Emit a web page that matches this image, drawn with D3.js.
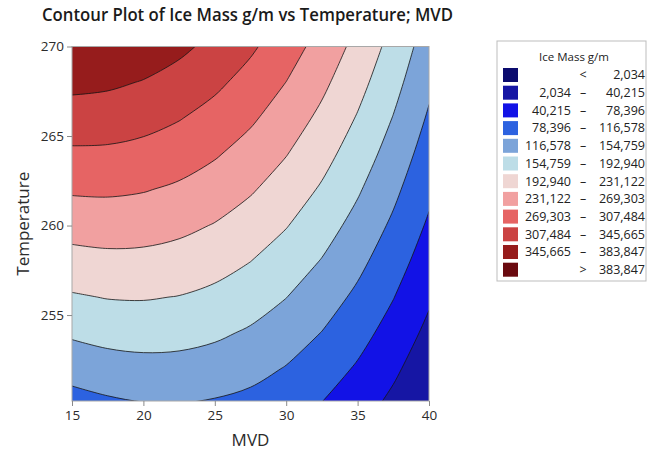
<!DOCTYPE html>
<html>
<head>
<meta charset="utf-8">
<script src="https://cdn.jsdelivr.net/npm/d3@7"></script>
<style>
  body { margin: 0; background: #fff; }
  svg { font-family: "Open Sans", sans-serif; }
</style>
</head>
<body>
<div id="chart"></div>
<script>
// grid nodes
var mvd = [15, 17.5, 20, 22.5, 25, 27.5, 30, 32.5, 35, 37.5, 40];
var temperature = [250, 252, 254, 256, 258, 260, 262, 264, 266, 268, 270];

// ice mass (g/m), one row per temperature (low -> high), one column per MVD
var iceMass = [
  [101.16, 109.29, 114.57, 115.47, 112.02, 105.70,  93.53,  76.98,  56.08,  30.81,   1.19],
  [130.86, 139.04, 142.85, 142.31, 137.40, 128.13, 114.49,  96.50,  74.14,  47.42,  16.33],
  [160.18, 166.91, 169.27, 167.27, 160.90, 150.18, 135.09, 115.64,  91.82,  63.65,  31.11],
  [189.14, 194.41, 195.32, 191.86, 184.04, 171.86, 155.32, 134.41, 109.14,  79.51,  45.52],
  [217.74, 221.55, 221.00, 216.09, 206.82, 193.18, 175.18, 152.82, 126.10,  95.01,  59.56],
  [245.96, 248.32, 246.32, 239.95, 229.22, 214.13, 194.68, 170.86, 142.68, 110.14,  73.24],
  [273.82, 274.72, 271.26, 263.44, 251.26, 234.71, 213.80, 188.53, 158.90, 124.90,  86.54],
  [301.30, 300.75, 295.84, 286.56, 272.92, 254.92, 232.56, 205.83, 174.74, 139.29,  99.48],
  [328.42, 326.42, 320.05, 309.32, 294.22, 274.77, 250.95, 222.77, 190.22, 153.32, 112.05],
  [355.18, 351.72, 343.89, 331.71, 315.16, 294.25, 268.97, 239.34, 205.34, 166.98, 124.25],
  [381.56, 376.64, 367.37, 353.72, 335.72, 313.35, 286.63, 255.53, 220.08, 180.26, 136.09]
];

var levels = [2.034, 40.215, 78.396, 116.578, 154.759, 192.940, 231.122, 269.303, 307.484, 345.665, 383.847];
var levelLabels = ["2,034", "40,215", "78,396", "116,578", "154,759", "192,940",
                   "231,122", "269,303", "307,484", "345,665", "383,847"];
var bandColors = ["#0b0b6e", "#1616a4", "#1212e6", "#2c62e0", "#7ca4d9", "#bddde7",
                  "#efd6d3", "#f1a0a0", "#e66464", "#cb4343", "#961c1c", "#6a0a0f"];

var xTicks = [15, 20, 25, 30, 35, 40];
var yTicks = [255, 260, 265, 270];

var svgWidth = 649;
var svgHeight = 454;
var plot = {left: 72, right: 429, top: 46.5, bottom: 401};

var svg = d3.select("#chart").append("svg")
    .attr("width", svgWidth)
    .attr("height", svgHeight);

var xScale = d3.scaleLinear().domain([15, 40]).range([plot.left, plot.right]);
var yScale = d3.scaleLinear().domain([250.2, 270]).range([plot.bottom, plot.top]);

var nCols = mvd.length, nRows = temperature.length;

// grid index space -> data space (d3.contours puts node k at k + 0.5)
var colToMvd = d3.scaleLinear().domain([0.5, nCols - 0.5]).range([mvd[0], mvd[nCols - 1]]);
var rowToTemp = d3.scaleLinear().domain([0.5, nRows - 0.5]).range([temperature[0], temperature[nRows - 1]]);

var flat = [];
iceMass.forEach(function(row) { row.forEach(function(v) { flat.push(v); }); });

var contours = d3.contours()
    .size([nCols, nRows])
    .thresholds(levels)(flat);

// smooth the part of each ring that lies inside the grid, keep the frame part straight
var smoothLine = d3.line().curve(d3.curveCatmullRom.alpha(0.5));
var smoothClosed = d3.line().curve(d3.curveCatmullRomClosed.alpha(0.5));
var eps = 1e-9;

function isInside(p) {
  return p[0] >= 0.5 - eps && p[0] <= nCols - 0.5 + eps &&
         p[1] >= 0.5 - eps && p[1] <= nRows - 0.5 + eps;
}

function ringPath(ring) {
  var raw = ring.slice();
  var last = raw[raw.length - 1];
  if (last[0] === raw[0][0] && last[1] === raw[0][1]) raw.pop();
  var pts = raw.map(function(p) { return [xScale(colToMvd(p[0])), yScale(rowToTemp(p[1]))]; });
  var inside = raw.map(isInside);
  var start = inside.indexOf(false);
  if (start < 0) return smoothClosed(pts);
  var n = pts.length;
  var d = "M" + pts[start];
  var run = [];
  for (var k = 1; k <= n; k++) {
    var idx = (start + k) % n;
    if (inside[idx]) {
      run.push(pts[idx]);
    } else {
      if (run.length === 1) d += "L" + run[0];
      else if (run.length > 1) d += smoothLine(run).replace(/^M/, "L");
      run = [];
      d += "L" + pts[idx];
    }
  }
  return d + "Z";
}

function contourPath(c) {
  return c.coordinates.map(function(poly) {
    return poly.map(ringPath).join("");
  }).join("");
}

svg.append("clipPath").attr("id", "plotClip")
  .append("rect")
    .attr("x", plot.left).attr("y", plot.top)
    .attr("width", plot.right - plot.left)
    .attr("height", plot.bottom - plot.top);

var chartGroup = svg.append("g").attr("clip-path", "url(#plotClip)");

chartGroup.append("rect")
    .attr("x", plot.left).attr("y", plot.top)
    .attr("width", plot.right - plot.left)
    .attr("height", plot.bottom - plot.top)
    .attr("fill", bandColors[0]);

chartGroup.selectAll("path.band")
    .data(contours)
    .enter()
    .append("path")
    .attr("class", "band")
    .attr("d", contourPath)
    .attr("fill-rule", "evenodd")
    .attr("fill", function(d, i) { return bandColors[i + 1]; })
    .attr("stroke", "#151515")
    .attr("stroke-width", 0.8);

// frame
svg.append("rect")
    .attr("x", plot.left).attr("y", plot.top)
    .attr("width", plot.right - plot.left)
    .attr("height", plot.bottom - plot.top)
    .attr("fill", "none")
    .attr("stroke", "#a8a8a8")
    .attr("stroke-width", 1);

// axes
var bottomAxis = d3.axisBottom(xScale).tickValues(xTicks).tickSize(5).tickPadding(4);
var leftAxis = d3.axisLeft(yScale).tickValues(yTicks).tickSize(5).tickPadding(3);

var xAxis = svg.append("g")
    .attr("transform", `translate(0,${plot.bottom})`)
    .call(bottomAxis);
var yAxis = svg.append("g")
    .attr("transform", `translate(${plot.left},0)`)
    .call(leftAxis);

[xAxis, yAxis].forEach(function(ax) {
  ax.select(".domain").remove();
  ax.selectAll(".tick line").attr("stroke", "#8a8a8a");
  ax.selectAll(".tick text")
    .attr("fill", "#2b2b2b")
    .style("font-size", "13.5px")
    .style("font-family", "'Open Sans', sans-serif");
});

// titles
svg.append("text")
    .attr("x", 42)
    .attr("y", 21)
    .attr("textLength", 411)
    .attr("lengthAdjust", "spacingAndGlyphs")
    .style("font-size", "18.5px")
    .style("font-weight", 600)
    .attr("fill", "#1a1a1a")
    .text("Contour Plot of Ice Mass g/m vs Temperature; MVD");

svg.append("text")
    .attr("x", (plot.left + plot.right) / 2)
    .attr("y", 446)
    .attr("text-anchor", "middle")
    .style("font-size", "17px")
    .attr("fill", "#2b2b2b")
    .text("MVD");

svg.append("text")
    .attr("transform", `translate(29,${(plot.top + plot.bottom) / 2}) rotate(-90)`)
    .attr("text-anchor", "middle")
    .style("font-size", "17px")
    .attr("fill", "#2b2b2b")
    .text("Temperature");

// legend
var legend = svg.append("g");
legend.append("rect")
    .attr("x", 497).attr("y", 41)
    .attr("width", 149).attr("height", 240)
    .attr("fill", "#fff")
    .attr("stroke", "#bdbdbd");

legend.append("text")
    .attr("x", 574).attr("y", 61)
    .attr("text-anchor", "middle")
    .style("font-size", "11.5px")
    .attr("fill", "#222")
    .text("Ice Mass g/m");

var rowY = function(i) { return 75 + i * 17.7; };

var rows = legend.selectAll("g.row")
    .data(bandColors)
    .enter()
    .append("g")
    .attr("class", "row")
    .attr("transform", function(d, i) { return `translate(0,${rowY(i)})`; });

rows.append("rect")
    .attr("x", 503).attr("y", -7)
    .attr("width", 15).attr("height", 14)
    .attr("fill", function(d) { return d; });

rows.each(function(d, i) {
  var g = d3.select(this);
  var last = bandColors.length - 1;
  var lo = (i > 0 && i < last) ? levelLabels[i - 1] : null;
  var hi = i < last ? levelLabels[i] : levelLabels[last - 1];
  var mid = i === 0 ? "<" : (i === last ? ">" : "\u2013");
  if (lo) {
    g.append("text").attr("x", 571).attr("y", 0).attr("dy", "0.35em")
      .attr("text-anchor", "end").text(lo);
  }
  g.append("text").attr("x", 583).attr("y", 0).attr("dy", "0.35em")
    .attr("text-anchor", "middle").text(mid);
  g.append("text").attr("x", 645).attr("y", 0).attr("dy", "0.35em")
    .attr("text-anchor", "end").text(hi);
});
rows.selectAll("text")
    .style("font-size", "12.5px")
    .attr("fill", "#222");
</script>
</body>
</html>
